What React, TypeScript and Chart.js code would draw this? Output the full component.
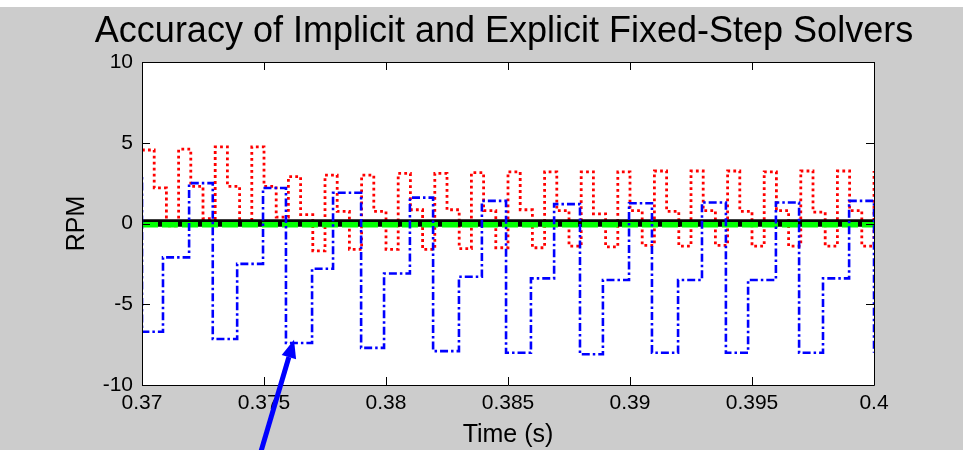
import React, { useEffect, useRef } from 'react';
import { Chart, registerables } from 'chart.js';

Chart.register(...registerables);

const TITLE = 'Accuracy of Implicit and Explicit Fixed-Step Solvers';
const X_LABEL = 'Time (s)';
const Y_LABEL = 'RPM';
const FONT = '"Liberation Sans", Arial, Helvetica, sans-serif';

const xTickValues = [0.37, 0.375, 0.38, 0.385, 0.39, 0.395, 0.4];
const xTickLabels = ['0.37', '0.375', '0.38', '0.385', '0.39', '0.395', '0.4'];
const yTickValues = [-10, -5, 0, 5, 10];
const yTickLabels = ['-10', '-5', '0', '5', '10'];

// Blue dash-dot series (stairs: each value holds until the next time)
const blueTimes = [
  0.3695, 0.37, 0.37086, 0.37193, 0.3729, 0.3739, 0.37496, 0.3759, 0.37697, 0.37783,
  0.37898, 0.37992, 0.38098, 0.38193, 0.38299, 0.38393, 0.38492, 0.38594, 0.38689, 0.38795,
  0.38889, 0.38996, 0.3909, 0.39197, 0.39295, 0.39393, 0.39484, 0.39598, 0.39693, 0.39791,
  0.39898, 0.4, 0.4005,
];
const blueValues = [
  2.8, -6.7, -2.1, 2.5, -7.15, -2.5, 2.2, -7.4, -2.8, 1.9,
  -7.7, -3.1, 1.6, -7.9, -3.3, 1.4, -8.0, -3.4, 1.2, -8.1,
  -3.5, 1.25, -8.0, -3.5, 1.3, -8.0, -3.5, 1.3, -8.0, -3.4,
  1.4, -8.0, -8.0,
];

// Red dotted series (stairs)
const redTimes = [
  0.37, 0.3705, 0.371, 0.3715, 0.372, 0.3725, 0.373, 0.3735, 0.374, 0.3745,
  0.375, 0.3755, 0.376, 0.3765, 0.377, 0.3775, 0.378, 0.3785, 0.379, 0.3795,
  0.38, 0.3805, 0.381, 0.3815, 0.382, 0.3825, 0.383, 0.3835, 0.384, 0.3845,
  0.385, 0.3855, 0.386, 0.3865, 0.387, 0.3875, 0.388, 0.3885, 0.389, 0.3895,
  0.39, 0.3905, 0.391, 0.3915, 0.392, 0.3925, 0.393, 0.3935, 0.394, 0.3945,
  0.395, 0.3955, 0.396, 0.3965, 0.397, 0.3975, 0.398, 0.3985, 0.399, 0.3995,
  0.4, 0.4005,
];
const redValues = [
  4.55, 2.2, -0.15, 4.6, 2.3, 0.3, 4.75, 2.3, 0.1, 4.75,
  2.3, 0.4, 2.9, 0.55, -1.7, 3.0, 0.75, -1.6, 3.0, 0.75,
  -1.6, 3.1, 0.85, -1.6, 3.1, 0.85, -1.55, 3.15, 0.8, -1.5,
  3.2, 0.85, -1.5, 3.2, 0.8, -1.4, 3.2, 0.6, -1.45, 3.2,
  0.8, -1.35, 3.25, 0.75, -1.4, 3.25, 0.8, -1.35, 3.25, 0.75,
  -1.4, 3.2, 0.8, -1.4, 3.25, 0.7, -1.4, 3.25, 0.8, -1.4,
  3.25, 3.25,
];

// Reference lines (black solid under green dashed)
const refTimes = [0.37, 0.4];
const blackValues = [0.03, 0.03];
const greenValues = [-0.08, -0.08];

// Arrow annotation (data coordinates): tail, tip
const arrowTimes = [0.37484, 0.37623];
const arrowValues = [-14.3, -7.2];

const pts = (xs: number[], ys: number[]) => xs.map((x, i) => ({ x, y: ys[i] }));

const framePlugin = {
  id: 'matlabFrame',
  beforeDraw(chart: any) {
    const { ctx, width, height, chartArea: a } = chart;
    ctx.save();
    ctx.fillStyle = '#ffffff';
    ctx.fillRect(0, 0, width, height);
    ctx.fillStyle = '#cccccc';
    ctx.fillRect(0, 7, 963, height - 7);
    ctx.fillStyle = '#ffffff';
    ctx.fillRect(a.left, a.top, a.right - a.left, a.bottom - a.top);
    ctx.restore();
  },
  afterDatasetsDraw(chart: any) {
    const { ctx, chartArea: a, scales } = chart;
    const xs = scales.x;
    const ys = scales.y;
    const tl = 8;
    ctx.save();
    ctx.strokeStyle = '#000';
    ctx.lineWidth = 1;
    ctx.beginPath();
    ctx.rect(Math.round(a.left) + 0.5, Math.round(a.top) + 0.5, Math.round(a.right - a.left), Math.round(a.bottom - a.top));
    ctx.stroke();
    ctx.beginPath();
    xTickValues.forEach((v) => {
      const px = Math.round(xs.getPixelForValue(v)) + 0.5;
      ctx.moveTo(px, a.bottom);
      ctx.lineTo(px, a.bottom - tl);
      ctx.moveTo(px, a.top);
      ctx.lineTo(px, a.top + tl);
    });
    yTickValues.forEach((v) => {
      const py = Math.round(ys.getPixelForValue(v)) + 0.5;
      ctx.moveTo(a.left, py);
      ctx.lineTo(a.left + tl, py);
      ctx.moveTo(a.right, py);
      ctx.lineTo(a.right - tl, py);
    });
    ctx.stroke();
    ctx.restore();
  },
  afterDraw(chart: any) {
    const { ctx, scales } = chart;
    ctx.save();
    ctx.fillStyle = '#000';
    ctx.font = `36px ${FONT}`;
    ctx.textAlign = 'center';
    ctx.textBaseline = 'alphabetic';
    ctx.fillText(TITLE, 504, 42);

    // arrow
    const x0 = scales.x.getPixelForValue(arrowTimes[0]);
    const y0 = scales.y.getPixelForValue(arrowValues[0]);
    const x1 = scales.x.getPixelForValue(arrowTimes[1]);
    const y1 = scales.y.getPixelForValue(arrowValues[1]);
    const ang = Math.atan2(y1 - y0, x1 - x0);
    const headLen = 18;
    const headW = 7.5;
    const bx = x1 - headLen * Math.cos(ang);
    const by = y1 - headLen * Math.sin(ang);
    ctx.strokeStyle = '#0000ff';
    ctx.fillStyle = '#0000ff';
    ctx.lineWidth = 5;
    ctx.beginPath();
    ctx.moveTo(x0, y0);
    ctx.lineTo(bx, by);
    ctx.stroke();
    ctx.beginPath();
    ctx.moveTo(x1, y1);
    ctx.lineTo(bx + headW * Math.sin(ang), by - headW * Math.cos(ang));
    ctx.lineTo(bx - headW * Math.sin(ang), by + headW * Math.cos(ang));
    ctx.closePath();
    ctx.fill();
    ctx.restore();
  },
};

export default function App() {
  const canvasRef = useRef<HTMLCanvasElement | null>(null);

  useEffect(() => {
    const canvas = canvasRef.current;
    if (!canvas) return;
    const chart = new Chart(canvas, {
      type: 'line',
      data: {
        datasets: [
          {
            label: 'Implicit',
            data: pts(blueTimes, blueValues),
            borderColor: '#0000ff',
            borderWidth: 2.6,
            borderDash: [8, 3, 2.5, 3],
            stepped: 'before',
            pointRadius: 0,
            fill: false,
          },
          {
            label: 'Reference',
            data: pts(refTimes, greenValues),
            borderColor: '#00ff00',
            borderWidth: 5.5,
            borderDash: [16, 4],
            pointRadius: 0,
            fill: false,
          },
          {
            label: 'Reference (black)',
            data: pts(refTimes, blackValues),
            borderColor: '#000000',
            borderWidth: 7.5,
            pointRadius: 0,
            fill: false,
          },
          {
            label: 'Explicit',
            data: pts(redTimes, redValues),
            borderColor: '#ff0000',
            borderWidth: 2.8,
            borderDash: [2.8, 3.2],
            stepped: 'before',
            pointRadius: 0,
            fill: false,
          },
        ],
      },
      options: {
        animation: false,
        responsive: false,
        devicePixelRatio: 1,
        events: [],
        layout: { padding: { top: 62, right: 93, left: 0, bottom: 0 } },
        plugins: {
          legend: { display: false },
          tooltip: { enabled: false },
          title: { display: false },
        },
        scales: {
          x: {
            type: 'linear',
            min: 0.37,
            max: 0.4,
            grid: { display: false, drawTicks: false },
            border: { display: false },
            afterBuildTicks: (s: any) => {
              s.ticks = xTickValues.map((v) => ({ value: v }));
            },
            afterFit: (s: any) => {
              s.height = 65;
            },
            ticks: {
              autoSkip: false,
              maxRotation: 0,
              padding: 6,
              color: '#000',
              font: { family: FONT, size: 21 },
              callback: (_v: any, i: number) => xTickLabels[i],
            },
            title: {
              display: true,
              text: X_LABEL,
              color: '#000',
              font: { family: FONT, size: 25 },
              padding: { top: 0, bottom: 0 },
            },
          },
          y: {
            type: 'linear',
            min: -10,
            max: 10,
            grid: { display: false, drawTicks: false },
            border: { display: false },
            afterBuildTicks: (s: any) => {
              s.ticks = yTickValues.map((v) => ({ value: v }));
            },
            afterFit: (s: any) => {
              s.width = 142;
            },
            ticks: {
              autoSkip: false,
              padding: 9,
              color: '#000',
              font: { family: FONT, size: 21 },
              callback: (_v: any, i: number) => yTickLabels[i],
            },
            title: {
              display: true,
              text: Y_LABEL,
              color: '#000',
              font: { family: FONT, size: 25 },
              padding: { top: 62, bottom: 0 },
            },
          },
        },
      } as any,
      plugins: [framePlugin],
    });
    return () => chart.destroy();
  }, []);

  return (
    <div style={{ position: 'absolute', left: 0, top: 0, width: 967, height: 450 }}>
      <canvas ref={canvasRef} width={967} height={450} style={{ display: 'block' }} />
    </div>
  );
}
